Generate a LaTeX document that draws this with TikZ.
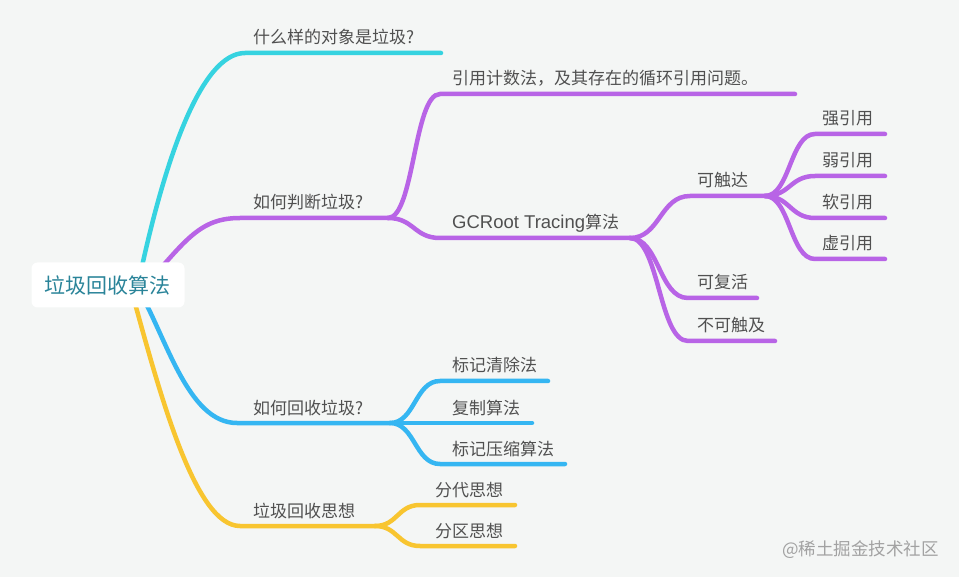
\documentclass[tikz,border=0pt]{standalone}
\usepackage{fontspec}
\setmainfont{Noto Sans CJK SC}
\newfontfamily\latinf{Liberation Sans}
\usetikzlibrary{calc,backgrounds}
\definecolor{bgc}{HTML}{F4F6F5}
\definecolor{txt}{HTML}{505050}
\definecolor{roottxt}{HTML}{2A8499}
\definecolor{cyanbr}{HTML}{36D3E0}
\definecolor{purplebr}{HTML}{B864E6}
\definecolor{bluebr}{HTML}{35B6F2}
\definecolor{yellowbr}{HTML}{F8C530}
\definecolor{wmgrey}{HTML}{A2A2A2}

\begin{document}
\begin{tikzpicture}[x=1pt,y=-1pt,
  br/.style={line width=4.5pt,line cap=round},
  curv/.style={to path={.. controls ($(\tikztostart)!.5!(\tikztostart-|\tikztotarget)$) and ($(\tikztotarget)!.5!(\tikztotarget-|\tikztostart)$) .. (\tikztotarget)}},
  lbl/.style={anchor=base west,inner sep=0pt,text=txt,font=\fontsize{17}{20}\selectfont},
  root/.style={fill=white,rounded corners=6pt,minimum width=153pt,minimum height=45pt,text=roottxt,font=\fontsize{21}{24}\selectfont}]

\node[root] (root) at (108,285) {垃圾回收算法};

\foreach \n/\y/\xa/\xb/\t in {q1/53/245/441/{什么样的对象是垃圾?}, q2/218/240/388/{如何判断垃圾?},
    q3/423/237/390/{如何回收垃圾?}, q4/526/240/375/{垃圾回收思想}}{
  \coordinate (\n-s) at (\xa,\y); \coordinate (\n-e) at (\xb,\y);
  \node[lbl] (\n) at (253,\y-9) {\t};}

\foreach \n/\y/\xa/\xb/\xt/\t in {r1/94/440/795/452/{引用计数法，及其存在的循环引用问题。}, r2/238/440/630/452/{{\latinf\fontsize{18.5}{20}\selectfont GCRoot Tracing}算法},
    s1/196/690/765/697/{可触达}, s2/298/688/757/697/{可复活}, s3/341/688/775/697/{不可触及},
    t1/134/815/885/822/{强引用}, t2/176/815/885/822/{弱引用}, t3/218/815/885/822/{软引用}, t4/259/815/885/822/{虚引用},
    u1/381/440/548/452/{标记清除法}, u2/423/440/532/452/{复制算法}, u3/464/440/565/452/{标记压缩算法},
    v1/505/420/515/435/{分代思想}, v2/546/420/515/435/{分区思想}}{
  \coordinate (\n-s) at (\xa,\y); \coordinate (\n-e) at (\xb,\y);
  \node[lbl] (\n) at (\xt,\y-9) {\t};}

\node[anchor=base west,inner sep=0pt,text=wmgrey,font=\fontsize{17.5}{20}\selectfont] (wm) at (782,555) {@稀土掘金技术社区};

\begin{scope}[on background layer]
\fill[bgc] (0,0) rectangle (959,577);

\draw[br,cyanbr] ([xshift=30pt]root.center) .. controls +(25,-120) and +(-45,0) .. (q1-s) -- (q1-e);
\draw[br,purplebr] ([xshift=38pt]root.center) .. controls +(40,-45) and +(-40,0) .. (q2-s) -- (q2-e);
\draw[br,bluebr] ([xshift=28pt]root.center) .. controls +(30,50) and +(-50,0) .. (q3-s) -- (q3-e);
\draw[br,yellowbr] ([xshift=22pt]root.center) .. controls +(30,110) and +(-45,0) .. (q4-s) -- (q4-e);

\foreach \n in {r1,r2}
  \draw[br,purplebr] (q2-e) to[curv] (\n-s) -- (\n-e);
\foreach \n in {s1,s2,s3}
  \draw[br,purplebr] (r2-e) to[curv] (\n-s) -- (\n-e);
\foreach \n in {t1,t2,t3,t4}
  \draw[br,purplebr] (s1-e) to[curv] (\n-s) -- (\n-e);
\foreach \n in {u1,u2,u3}
  \draw[br,bluebr] (q3-e) to[curv] (\n-s) -- (\n-e);
\foreach \n in {v1,v2}
  \draw[br,yellowbr] (q4-e) to[curv] (\n-s) -- (\n-e);
\end{scope}
\end{tikzpicture}
\end{document}
